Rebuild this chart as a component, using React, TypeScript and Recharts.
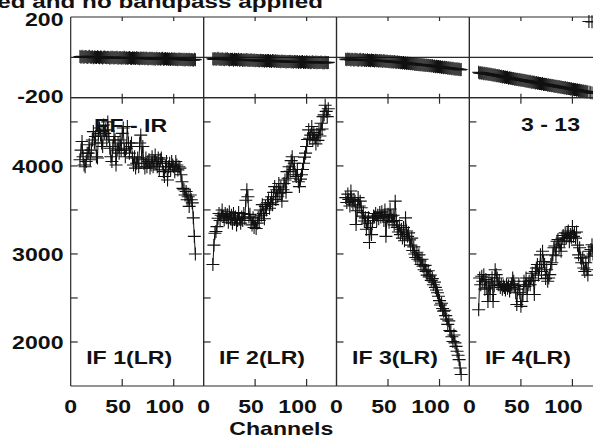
import React from 'react';
import { LineChart, Line, XAxis, YAxis, ReferenceLine } from 'recharts';

// ---------- data ----------
const channels: number[] = Array.from({ length: 113 }, (_, i) => 9 + i); // channels 9..121

const ifLabels = ['IF 1(LR)', 'IF 2(LR)', 'IF 3(LR)', 'IF 4(LR)'];
const baselineLabel = 'EF - IR';
const timeLabel = '3 - 13';
const titleText = 'ed and no bandpass applied';
const xAxisTitle = 'Channels';

const chanTicks = [0, 50, 100];
const innerChanTicks = [50, 100];
const ampTicks = [2000, 2500, 3000, 3500, 4000, 4500];
const ampLabelTicks = [2000, 3000, 4000];
const phaseLabelTicks = [-200, 200];
const chanDomain: [number, number] = [0, 129];
const ampDomain: [number, number] = [1500, 4775];
const phaseDomain: [number, number] = [-200, 200];

const ampIF1 = [
  4070, 4180, 4277, 4105, 4010, 3990, 4050, 4145, 4145, 4240,
  4070, 4180, 4295, 4390, 4260, 4335, 4105, 4090, 4370, 4430,
  4350, 4260, 4220, 4465, 4370, 4410, 4295, 4500, 4335, 4200,
  4105, 4050, 4220, 4335, 4295, 4010, 4180, 4260, 4145, 4295,
  4180, 4370, 4430, 4180, 4105, 4200, 4447, 4260, 4145, 4220,
  4260, 4090, 4010, 4105, 3975, 4030, 4090, 3990, 4260, 4350,
  4070, 4220, 4030, 3975, 4090, 3990, 4050, 4070, 3975, 4010,
  4105, 3990, 4050, 4125, 4030, 3990, 4090, 3955, 4070, 4090,
  4030, 3935, 3880, 3990, 4050, 3840, 3990, 4030, 3955, 4050,
  4010, 3990, 3935, 4050, 4010, 3955, 3990, 3975, 3900, 3820,
  3745, 3730, 3670, 3710, 3615, 3650, 3540, 3670, 3615, 3580,
  3410, 3200, 3000,
];
const ampIF2 = [
  2880, 3100, 3235, 3255, 3310, 3405, 3460, 3380, 3440, 3500,
  3425, 3385, 3460, 3410, 3445, 3360, 3480, 3405, 3440, 3350,
  3460, 3390, 3420, 3330, 3380, 3470, 3400, 3350, 3420, 3380,
  3460, 3400, 3610, 3730, 3650, 3420, 3450, 3380, 3330, 3410,
  3300, 3380, 3290, 3350, 3420, 3380, 3500, 3440, 3560, 3460,
  3400, 3540, 3500, 3580, 3615, 3520, 3580, 3650, 3560, 3700,
  3765, 3620, 3730, 3650, 3800, 3690, 3760, 3600, 3730, 3800,
  3840, 3700, 3935, 3860, 3990, 3940, 4060, 4105, 3960, 4030,
  3900, 3880, 3960, 3820, 3765, 3850, 3900, 3960, 4030, 4100,
  4145, 4220, 4300, 4410, 4315, 4350, 4447, 4295, 4380, 4320,
  4250, 4360, 4290, 4410, 4340, 4485, 4420, 4560, 4580, 4690,
  4620, 4560, 4650,
];
const ampIF3 = [
  3640, 3585, 3680, 3620, 3545, 3715, 3600, 3565, 3620, 3600,
  3335, 3490, 3640, 3545, 3600, 3525, 3430, 3470, 3375, 3410,
  3280, 3350, 3410, 3130, 3300, 3220, 3380, 3430, 3420, 3460,
  3380, 3440, 3400, 3470, 3420, 3480, 3430, 3380, 3500, 3200,
  3410, 3450, 3360, 3510, 3430, 3370, 3440, 3330, 3600, 3380,
  3300, 3250, 3320, 3220, 3280, 3180, 3300, 3150, 3410, 3260,
  3200, 3240, 3160, 3100, 3180, 3040, 3080, 3000, 2960, 3020,
  2940, 2990, 2920, 2880, 2940, 2860, 2820, 2870, 2800, 2760,
  2810, 2740, 2760, 2700, 2720, 2650, 2680, 2620, 2590, 2560,
  2520, 2470, 2420, 2440, 2380, 2350, 2360, 2300, 2260, 2200,
  2240, 2130, 2120, 2060, 2005, 2080, 1990, 1950, 1895, 1850,
  1800, 1705, 1630,
];
const ampIF4 = [
  2367, 2727, 2650, 2746, 2690, 2765, 2600, 2710, 2615, 2460,
  2690, 2540, 2670, 2730, 2460, 2640, 2820, 2765, 2727, 2650,
  2690, 2620, 2650, 2600, 2640, 2620, 2590, 2650, 2610, 2640,
  2580, 2620, 2660, 2727, 2690, 2640, 2560, 2425, 2600, 2650,
  2560, 2405, 2460, 2540, 2690, 2630, 2727, 2540, 2650, 2690,
  2650, 2727, 2780, 2700, 2540, 2800, 2840, 2880, 2760, 2840,
  2990, 2800, 3030, 2915, 2880, 2720, 2820, 2690, 2727, 2765,
  2880, 2900, 2990, 3070, 3090, 2980, 3145, 3165, 3070, 3110,
  3030, 3180, 3210, 3150, 3240, 3180, 3230, 3260, 3140, 3220,
  3190, 3312, 3200, 3240, 3180, 3250, 3100, 2990, 3070, 2955,
  2900, 2955, 2840, 2800, 2900, 2820, 2760, 3030, 2975, 3050,
  3105, 3000, 3080,
];

const phaseIF1 = [
  4, 1, 5, 2, 0, 4, 3, -1, 2, 5,
  1, 0, 3, -2, 2, 1, -1, 3, 0, -2,
  2, 1, -3, 0, 2, -1, -2, 1, -1, -4,
  0, -2, 1, -3, -1, -2, 0, -4, -2, -1,
  -5, -2, -3, 0, -4, -2, -5, -3, -1, -4,
  -6, -2, -4, -3, -6, -2, -5, -4, -7, -3,
  -5, -6, -3, -7, -5, -4, -8, -6, -4, -7,
  -5, -8, -6, -9, -5, -7, -8, -6, -9, -7,
  -5, -9, -8, -6, -10, -7, -9, -8, -11, -7,
  -9, -10, -8, -11, -9, -12, -8, -10, -11, -9,
  -12, -10, -13, -9, -11, -12, -10, -13, -11, -12,
  -14, -10, -12,
];
const phaseIF2 = [
  -7, -10, -6, -9, -8, -5, -10, -8, -11, -7,
  -9, -12, -8, -10, -7, -11, -13, -9, -11, -10,
  -14, -9, -12, -11, -13, -10, -14, -12, -11, -15,
  -12, -14, -13, -11, -15, -13, -16, -12, -14, -15,
  -13, -17, -14, -16, -15, -18, -14, -16, -17, -15,
  -19, -16, -18, -17, -15, -19, -17, -20, -16, -18,
  -19, -17, -21, -18, -20, -19, -22, -18, -20, -21,
  -19, -23, -20, -22, -21, -19, -23, -21, -24, -20,
  -22, -23, -21, -25, -22, -24, -23, -21, -25, -23,
  -26, -22, -24, -25, -23, -27, -24, -22, -26, -25,
  -23, -27, -24, -26, -25, -23, -27, -25, -28, -24,
  -26, -27, -25,
];
const phaseIF3 = [
  -9, -12, -8, -11, -10, -13, -9, -11, -14, -10,
  -12, -11, -15, -12, -10, -14, -13, -11, -15, -13,
  -16, -12, -15, -14, -17, -13, -16, -15, -18, -14,
  -17, -16, -19, -15, -18, -17, -20, -16, -19, -21,
  -18, -20, -22, -19, -23, -21, -24, -20, -23, -25,
  -22, -26, -24, -27, -25, -28, -26, -29, -27, -30,
  -28, -31, -29, -32, -30, -33, -31, -35, -33, -36,
  -34, -37, -35, -38, -36, -39, -37, -40, -38, -41,
  -39, -42, -40, -43, -41, -45, -43, -46, -44, -47,
  -45, -48, -46, -50, -48, -51, -49, -52, -50, -54,
  -52, -55, -53, -56, -54, -58, -56, -59, -57, -60,
  -58, -62, -60,
];
const phaseIF4: (number | null)[] = [
  -74, -78, -76, -79, -77, -81, -79, -82, -80, -84,
  -83, -85, -84, -88, -86, -89, -88, -91, -90, -93,
  -91, -95, -94, -97, -95, -99, -98, -100, -99, -103,
  -101, -104, -103, -106, -105, -108, -107, -110, -109, -112,
  -110, -114, -112, -115, -114, -117, -116, -119, -118, -121,
  -119, -123, -122, -124, -123, -127, -125, -128, -127, -130,
  -129, -132, -130, -134, -133, -135, -134, -138, -136, -139,
  -138, -141, -139, -143, -142, -144, -143, -147, -145, -148,
  -147, -150, -149, -152, -150, -154, -152, -155, -154, -157,
  -156, -159, -158, -161, -159, -163, -161, -164, -163, -166,
  -165, -168, -167, -170, -168, -172, -170, null, -173, -176,
  null, -177, -179,
];
// phase points that wrapped past -180 in IF 4
const wrapChannelsIF4 = [116, 119];
const wrapPhaseIF4 = [178, 176];

const ampSeries = [ampIF1, ampIF2, ampIF3, ampIF4];
const phaseSeries: (number | null)[][] = [phaseIF1, phaseIF2, phaseIF3, phaseIF4];

// ---------- layout ----------
const CW = 610;
const CH = 440;
const PANEL_LEFT = 70.7;
const PANEL_W = 132.9;
const PHASE_TOP = 17;
const PHASE_BOTTOM = 97.7;
const AMP_BOTTOM = 386;
const AX = 1; // size given to every axis box (a zero-size axis is not drawn)
const FRAME = '#2a2a2a';
const INK = '#111';
const FONT = '"Liberation Sans", Arial, Helvetica, sans-serif';
const FONT_SIZE = 17.5;
const STRETCH = 1.32;

const labelDx: Record<number, number> = { 0: 0, 50: -4, 100: -9 };

const ST = ({ x, y, anchor = 'start', sx = STRETCH, children }: any) => (
  <text
    transform={`translate(${x} ${y}) scale(${sx} 1)`}
    textAnchor={anchor}
    fontFamily={FONT}
    fontWeight={700}
    fontSize={FONT_SIZE}
    fill={INK}
  >
    {children}
  </text>
);

const Cross = (props: any) => {
  const { cx, cy, value, index } = props;
  if (cx == null || cy == null || value == null || Number.isNaN(cy)) return <g key={`n${index}`} />;
  const h = 6.5;
  return (
    <path
      key={`c${index}`}
      d={`M${cx - h},${cy}H${cx + h}M${cx},${cy - h}V${cy + h}`}
      stroke={INK}
      strokeWidth={1.1}
      fill="none"
    />
  );
};

const makeXTick = (dir: number, len: number, showLabel: boolean) => (props: any) => {
  const { x, y, payload } = props;
  const v = payload.value;
  return (
    <g>
      {v !== 0 && <line x1={x} y1={y} x2={x} y2={y + dir * len} stroke={FRAME} strokeWidth={1.2} />}
      {showLabel && (
        <ST x={x + (labelDx[v] ?? 0)} y={y + 26.7} anchor="middle">
          {String(v)}
        </ST>
      )}
    </g>
  );
};

const makeAmpYTick = (dir: number, showLabel: boolean) => (props: any) => {
  const { x, y, payload } = props;
  const v = payload.value;
  return (
    <g>
      <line x1={x} y1={y} x2={x + dir * 7} y2={y} stroke={FRAME} strokeWidth={1.2} />
      {showLabel && ampLabelTicks.includes(v) && (
        <ST x={x - 7.2} y={y + 7} anchor="end">
          {String(v)}
        </ST>
      )}
    </g>
  );
};

const phaseYTick = (props: any) => {
  const { x, y, payload } = props;
  const v = payload.value;
  return (
    <g>
      <ST x={x - 7.2} y={y + (v > 0 ? 9.3 : 5.3)} anchor="end">
        {String(v)}
      </ST>
    </g>
  );
};

const axisLine = { stroke: FRAME, strokeWidth: 1.2 };

function buildRows(i: number) {
  return channels.map((ch, k) => {
    const w = i === 3 ? wrapChannelsIF4.indexOf(ch) : -1;
    return {
      ch,
      amp: ampSeries[i][k],
      phase: phaseSeries[i][k],
      wrap: w >= 0 ? wrapPhaseIF4[w] : null,
    };
  });
}

const Panel = ({ i }: { i: number }) => {
  const rows = buildRows(i);
  const left = PANEL_LEFT + i * PANEL_W;
  const right = CW - left - PANEL_W;
  const abs: React.CSSProperties = { position: 'absolute', left: 0, top: 0 };
  const common = { tickLine: false, tickSize: 0, tickMargin: 0, axisLine, interval: 0 as const };
  return (
    <>
      {/* phase panel */}
      <div style={abs}>
        <LineChart
          width={CW}
          height={CH}
          data={rows}
          margin={{ top: PHASE_TOP - AX, bottom: CH - PHASE_BOTTOM - AX, left: left - AX, right: right - AX }}
        >
          <XAxis xAxisId="b" dataKey="ch" type="number" domain={chanDomain} orientation="bottom" height={AX}
            ticks={innerChanTicks} {...common} tick={makeXTick(-1, 4, false)} />
          <XAxis xAxisId="t" dataKey="ch" type="number" domain={chanDomain} orientation="top" height={AX}
            ticks={innerChanTicks} {...common} tick={makeXTick(1, 4, false)} />
          <YAxis yAxisId="l" type="number" domain={phaseDomain} width={AX} orientation="left"
            ticks={phaseLabelTicks} {...common} tick={i === 0 ? phaseYTick : false} />
          <YAxis yAxisId="r" type="number" domain={phaseDomain} width={AX} orientation="right"
            ticks={phaseLabelTicks} {...common} tick={false} />
          <ReferenceLine xAxisId="b" yAxisId="l" y={0} stroke={FRAME} strokeWidth={1.1} />
          <Line xAxisId="b" yAxisId="l" dataKey="phase" stroke={INK} strokeWidth={1} dot={Cross}
            connectNulls isAnimationActive={false} />
          {i === 3 && (
            <Line xAxisId="b" yAxisId="l" dataKey="wrap" stroke="none" dot={Cross} isAnimationActive={false} />
          )}
        </LineChart>
      </div>
      {/* amplitude panel */}
      <div style={abs}>
        <LineChart
          width={CW}
          height={CH}
          data={rows}
          margin={{ top: PHASE_BOTTOM - AX, bottom: CH - AMP_BOTTOM - AX, left: left - AX, right: right - AX }}
        >
          <XAxis xAxisId="b" dataKey="ch" type="number" domain={chanDomain} orientation="bottom" height={AX}
            ticks={chanTicks} {...common} tick={makeXTick(-1, 7, true)} />
          <XAxis xAxisId="t" dataKey="ch" type="number" domain={chanDomain} orientation="top" height={AX}
            ticks={innerChanTicks} {...common} tick={makeXTick(1, 6, false)} />
          <YAxis yAxisId="l" type="number" domain={ampDomain} width={AX} orientation="left"
            ticks={ampTicks} {...common} tick={makeAmpYTick(1, i === 0)} />
          <YAxis yAxisId="r" type="number" domain={ampDomain} width={AX} orientation="right"
            ticks={ampTicks} {...common} tick={makeAmpYTick(-1, false)} />
          <Line xAxisId="b" yAxisId="l" dataKey="amp" stroke={INK} strokeWidth={1} dot={Cross}
            isAnimationActive={false} />
        </LineChart>
      </div>
    </>
  );
};

export default function App() {
  return (
    <div
      style={{
        position: 'absolute',
        left: 0,
        top: 0,
        width: 593,
        height: 440,
        overflow: 'hidden',
        background: '#fff',
      }}
    >
      {[0, 1, 2, 3].map((i) => (
        <Panel key={i} i={i} />
      ))}
      <svg width={593} height={440} style={{ position: 'absolute', left: 0, top: 0, pointerEvents: 'none' }}>
        <ST x={323} y={7.5} anchor="end" sx={1.385}>{titleText}</ST>
        <ST x={PANEL_LEFT + 23.3} y={131.5}>{baselineLabel}</ST>
        <ST x={580} y={131} anchor="end">{timeLabel}</ST>
        {ifLabels.map((t, i) => (
          <ST key={t} x={PANEL_LEFT + i * PANEL_W + 15.5} y={363.5}>{t}</ST>
        ))}
        <ST x={281.3} y={435} anchor="middle">{xAxisTitle}</ST>
      </svg>
    </div>
  );
}
